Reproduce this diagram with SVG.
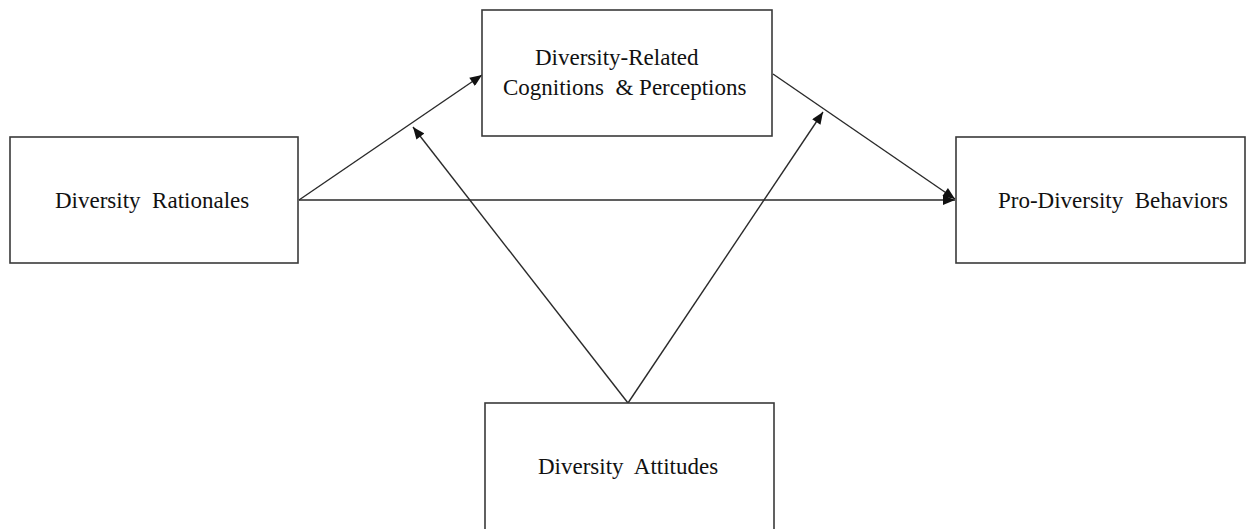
<svg xmlns="http://www.w3.org/2000/svg" width="1246" height="529" viewBox="0 0 1246 529">
<style>
.box{fill:#fff;stroke:#3a3a3a;stroke-width:1.6}
.lbl{font-family:"Liberation Serif","Times New Roman",serif;font-size:23px;fill:#111;white-space:pre}
.edge{stroke:#2a2a2a;stroke-width:1.4;fill:none}
</style>
<defs>
<marker id="ah" viewBox="0 0 12 10" refX="12" refY="5" markerWidth="13" markerHeight="10" markerUnits="userSpaceOnUse" orient="auto">
<path d="M0,0 L12,5 L0,10 Z" fill="#111"/>
</marker>
</defs>
<rect width="1246" height="529" fill="#fff"/>
<g id="connectors">
<line class="edge" x1="299" y1="200" x2="482" y2="75" marker-end="url(#ah)"/>
<line class="edge" x1="299" y1="200" x2="955" y2="200" marker-end="url(#ah)"/>
<line class="edge" x1="773" y1="74" x2="955" y2="199" marker-end="url(#ah)"/>
<line class="edge" x1="628" y1="403" x2="413" y2="127" marker-end="url(#ah)"/>
<line class="edge" x1="628" y1="403" x2="823" y2="112" marker-end="url(#ah)"/>
</g>
<g id="node-rationales">
<rect class="box" x="10" y="137" width="288" height="126"/>
<text class="lbl" x="55" y="208">Diversity  Rationales</text>
</g>
<g id="node-cognitions">
<rect class="box" x="482" y="10" width="290" height="126"/>
<text class="lbl" x="535" y="65">Diversity-Related</text>
<text class="lbl" x="503" y="95">Cognitions  &amp; Perceptions</text>
</g>
<g id="node-behaviors">
<rect class="box" x="956" y="137" width="289" height="126"/>
<text class="lbl" x="998" y="208">Pro-Diversity  Behaviors</text>
</g>
<g id="node-attitudes">
<rect class="box" x="485" y="403" width="289" height="130"/>
<text class="lbl" x="538" y="474">Diversity  Attitudes</text>
</g>
</svg>
